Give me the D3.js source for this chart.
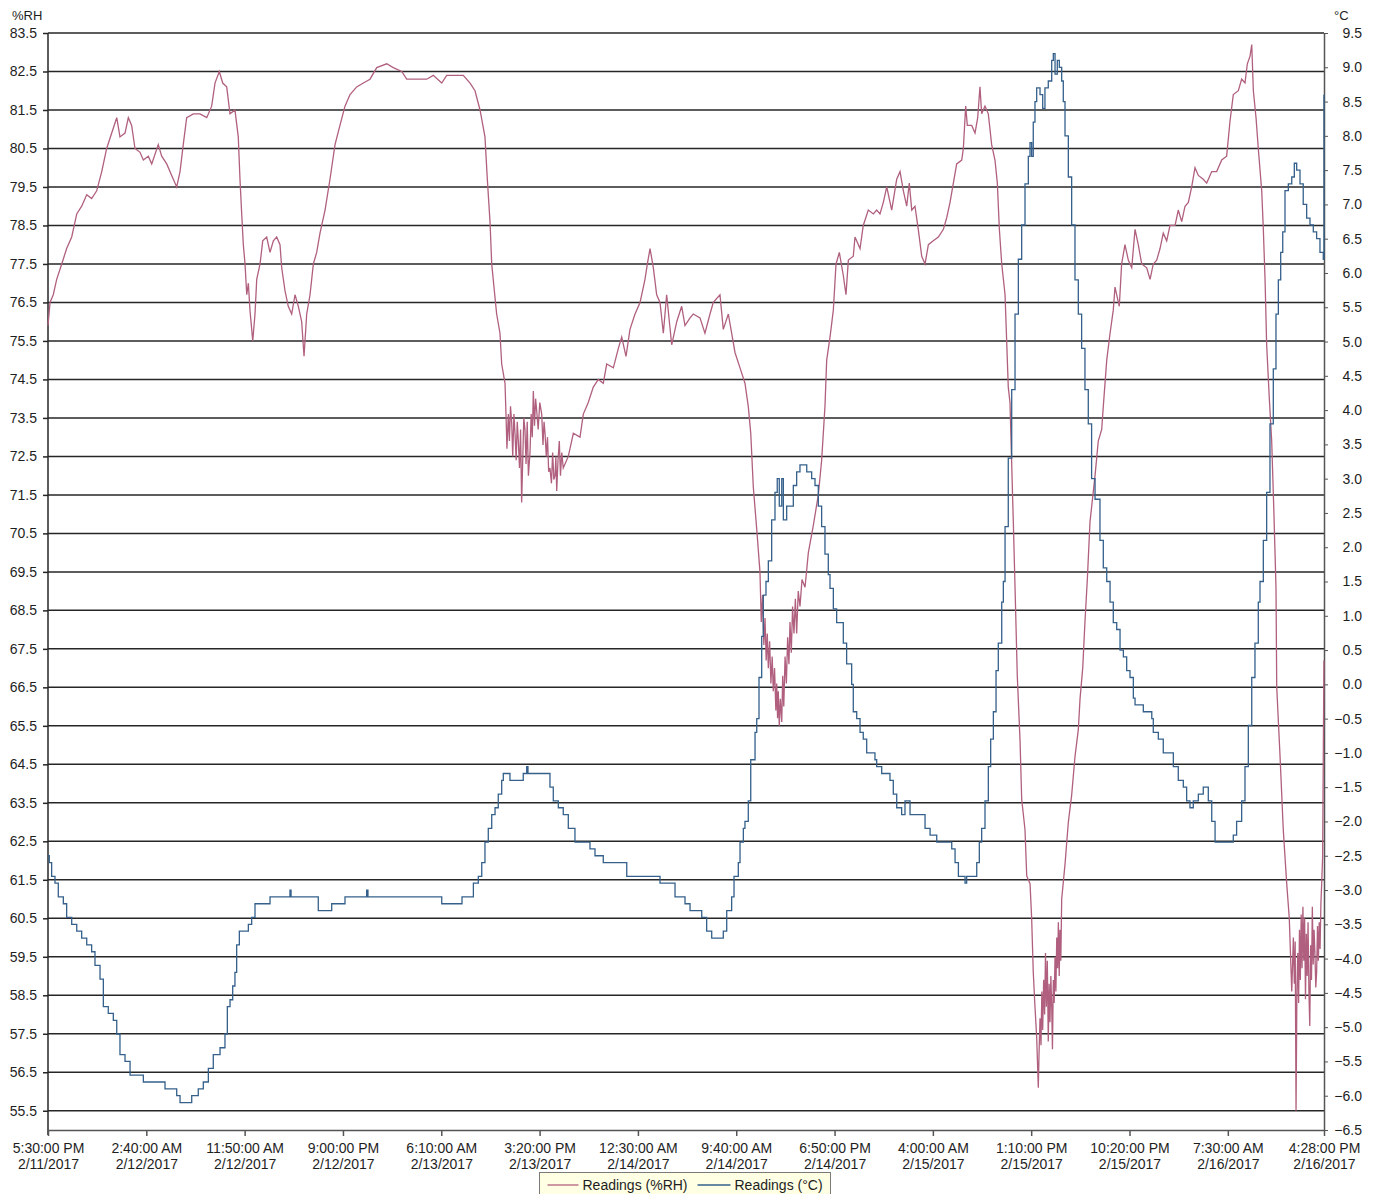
<!DOCTYPE html>
<meta charset="utf-8">
<script src="https://d3js.org/d3.v7.min.js"></script>
<style>
  body { margin: 0; background: #fff; }
  #chart text { font-family: "Liberation Sans", Arial, sans-serif; fill: #1e1e1e; }
</style>
<body>
<div id="chart"></div>
<script>

// readings as [hours since 5:30:00 PM 2/11/2017, value]
var rhReadings = [
  [0,75.9],[0.19,76.5],[0.49,76.7],[0.81,77.1],[1.28,77.5],[1.74,77.9],[2.21,78.2],[2.68,78.8],[3.14,79.0],[3.61,79.3],
  [4.07,79.2],[4.54,79.4],[5.01,79.9],[5.47,80.5],[5.94,80.9],[6.41,81.3],[6.71,80.8],[7.18,80.9],[7.49,81.3],[7.80,81.1],
  [8.11,80.5],[8.58,80.4],[8.89,80.2],[9.35,80.3],[9.67,80.1],[10.28,80.6],[10.60,80.3],[11.07,80.1],[11.53,79.8],[12.00,79.5],
  [12.31,79.9],[12.61,80.6],[12.93,81.3],[13.55,81.4],[14.17,81.4],[14.80,81.3],[15.26,81.6],[15.57,82.2],[15.97,82.5],[16.29,82.2],
  [16.66,82.1],[16.97,81.4],[17.43,81.5],[17.74,80.8],[17.90,79.7],[18.06,78.8],[18.21,78.0],[18.37,77.5],[18.53,76.7],[18.68,77.0],
  [18.83,76.3],[19.09,75.5],[19.30,76.2],[19.46,77.1],[19.77,77.5],[20.02,78.1],[20.39,78.2],[20.70,77.8],[21.01,78.1],[21.32,78.2],
  [21.63,78.0],[21.79,77.4],[22.10,76.8],[22.40,76.4],[22.72,76.2],[23.03,76.7],[23.34,76.4],[23.65,76.0],[23.87,75.1],[24.12,76.2],
  [24.43,76.7],[24.74,77.5],[25.05,77.8],[25.36,78.3],[25.83,78.9],[26.29,79.7],[26.76,80.6],[27.22,81.1],[27.69,81.6],[28.16,81.9],
  [28.78,82.1],[29.40,82.2],[30.02,82.3],[30.65,82.6],[31.58,82.7],[32.19,82.6],[32.98,82.5],[33.44,82.3],[34.38,82.3],[35.31,82.3],
  [35.92,82.4],[36.71,82.2],[37.17,82.4],[38.11,82.4],[38.72,82.4],[39.35,82.2],[39.81,82.0],[40.28,81.5],[40.74,80.8],[40.96,79.7],
  [41.21,78.6],[41.37,77.5],[41.58,76.9],[41.83,76.2],[42.14,75.7],[42.30,74.9],[42.61,74.4],[42.70,73.6],[42.79,72.7],[42.92,73.6],
  [43.02,72.9],[43.12,73.8],[43.23,73.4],[43.33,72.5],[43.44,73.6],[43.54,73.1],[43.65,72.4],[43.75,73.4],[43.85,72.9],[43.96,72.2],
  [44.06,73.2],[44.16,71.3],[44.26,72.4],[44.36,73.5],[44.47,73.2],[44.57,72.3],[44.68,73.4],[44.79,72.0],[44.94,72.6],[45.05,73.6],
  [45.15,73.0],[45.25,74.2],[45.36,73.3],[45.46,74.0],[45.56,73.7],[45.70,73.2],[45.85,73.9],[46.03,73.6],[46.15,72.8],[46.25,73.4],
  [46.34,73.1],[46.46,72.5],[46.57,73.0],[46.68,72.1],[46.80,72.2],[46.94,71.8],[47.05,72.6],[47.16,71.9],[47.27,72.0],[47.35,72.5],
  [47.43,71.6],[47.55,72.4],[47.67,72.9],[47.78,72.0],[47.90,72.6],[48.04,72.2],[48.51,72.5],[48.98,73.1],[49.60,73.0],[49.91,73.6],
  [50.37,73.9],[50.84,74.3],[51.31,74.5],[51.77,74.4],[52.09,74.9],[52.71,74.8],[53.17,75.3],[53.49,75.6],[53.89,75.1],[54.26,75.8],
  [54.73,76.2],[55.20,76.5],[55.66,77.1],[55.88,77.5],[56.13,77.9],[56.44,77.4],[56.75,76.7],[57.06,76.5],[57.37,75.7],[57.68,76.7],
  [58.15,75.4],[58.62,76.0],[59.08,76.4],[59.39,75.9],[59.86,76.1],[60.16,76.2],[60.79,76.1],[61.25,75.7],[61.72,76.2],[62.03,76.5],
  [62.65,76.7],[62.96,75.8],[63.43,76.2],[63.74,75.7],[64.05,75.2],[64.52,74.8],[64.98,74.4],[65.29,73.8],[65.52,73.1],[65.76,71.7],
  [66.08,70.6],[66.38,69.5],[66.50,68.2],[66.62,68.9],[66.74,67.6],[66.85,68.3],[66.96,67.2],[67.06,67.9],[67.16,67.0],[67.28,67.7],
  [67.40,66.6],[67.52,67.3],[67.62,66.4],[67.74,67.0],[67.86,65.9],[67.94,66.6],[68.02,65.7],[68.09,66.4],[68.18,65.5],[68.28,66.2],
  [68.41,65.6],[68.50,66.8],[68.60,66.0],[68.72,67.3],[68.84,66.6],[68.96,67.8],[69.08,67.1],[69.18,68.2],[69.30,67.4],[69.42,68.6],
  [69.55,67.9],[69.68,68.8],[69.80,67.9],[69.95,69.0],[70.11,68.6],[70.30,69.3],[70.58,69.1],[70.89,70.0],[71.35,70.7],[71.82,71.5],
  [72.13,72.4],[72.44,73.8],[72.60,75.0],[72.91,75.6],[73.22,76.3],[73.47,77.5],[73.78,77.8],[74.15,77.2],[74.40,76.7],[74.62,77.6],
  [75.08,77.7],[75.24,78.2],[75.71,77.9],[76.01,78.5],[76.48,78.9],[76.95,78.8],[77.26,78.9],[77.57,78.8],[77.88,79.1],[78.20,79.5],
  [78.66,78.9],[79.13,79.7],[79.44,79.9],[79.75,79.4],[80.06,79.0],[80.30,79.6],[80.53,78.9],[80.83,79.0],[81.14,78.4],[81.46,77.7],
  [81.77,77.5],[82.08,78.0],[82.54,78.1],[83.01,78.2],[83.48,78.4],[83.79,78.7],[84.10,79.1],[84.41,79.6],[84.72,80.1],[85.19,80.2],
  [85.34,80.5],[85.56,81.6],[85.71,81.1],[86.12,81.1],[86.43,80.9],[86.68,81.3],[86.89,82.1],[87.05,81.4],[87.36,81.6],[87.67,81.4],
  [87.98,80.6],[88.29,80.2],[88.51,79.6],[88.70,78.4],[88.92,77.5],[89.23,76.7],[89.53,74.3],[89.69,73.9],[90.00,70.8],[90.16,69.1],
  [90.37,66.8],[90.63,65.1],[90.78,63.6],[91.09,62.8],[91.25,61.6],[91.56,61.4],[91.71,60.5],[91.86,59.1],[92.02,58.2],[92.18,57.4],
  [92.33,56.1],[92.40,57.0],[92.49,57.9],[92.58,57.2],[92.66,58.6],[92.74,57.6],[92.83,58.9],[92.92,58.0],[93.00,59.6],[93.08,58.2],
  [93.17,59.4],[93.26,57.3],[93.34,58.8],[93.42,57.8],[93.50,59.0],[93.58,58.2],[93.65,57.1],[93.73,58.9],[93.81,58.3],[93.89,59.5],
  [93.97,58.6],[94.05,60.0],[94.13,59.2],[94.20,60.4],[94.28,59.0],[94.35,60.2],[94.43,59.4],[94.51,61.0],[94.82,61.9],[95.13,63.0],
  [95.44,63.7],[95.75,64.7],[96.06,65.4],[96.22,66.2],[96.47,67.0],[96.68,68.2],[96.90,69.3],[97.15,70.8],[97.62,72.0],[97.92,72.9],
  [98.24,73.2],[98.39,73.8],[98.71,75.0],[99.02,75.7],[99.32,76.3],[99.48,76.9],[99.88,76.4],[100.10,77.5],[100.41,78.0],[100.72,77.6],
  [101.04,77.4],[101.35,78.4],[101.65,78.0],[101.97,77.5],[102.44,77.4],[102.75,77.1],[103.05,77.5],[103.37,77.6],[103.68,77.9],[103.98,78.3],
  [104.30,78.1],[104.61,78.5],[105.08,78.5],[105.38,78.9],[105.70,78.6],[106.01,79.0],[106.32,79.1],[106.63,79.5],[106.94,80.0],[107.25,79.8],
  [107.71,79.7],[108.03,79.6],[108.50,79.9],[108.96,79.9],[109.43,80.2],[109.89,80.3],[110.20,81.2],[110.51,81.9],[110.98,82.0],[111.29,82.3],
  [111.60,82.2],[111.82,82.7],[112.07,82.9],[112.23,83.2],[112.38,82.0],[112.63,81.3],[112.84,80.5],[113.16,79.4],[113.31,78.4],[113.47,77.1],
  [113.62,75.4],[113.87,74.0],[114.09,72.9],[114.30,71.0],[114.49,69.1],[114.56,66.5],[114.87,64.7],[115.17,62.8],[115.49,61.4],[115.73,60.5],
  [115.96,58.6],[116.11,60.0],[116.20,58.8],[116.28,59.9],[116.36,55.5],[116.44,58.6],[116.52,59.6],[116.60,58.3],[116.68,60.2],[116.76,58.9],
  [116.84,60.6],[116.92,59.2],[117.00,60.8],[117.08,59.4],[117.16,60.5],[117.24,58.4],[117.32,60.1],[117.40,59.0],[117.48,60.4],[117.56,58.6],
  [117.64,57.7],[117.72,59.8],[117.80,58.9],[117.88,60.8],[117.96,59.3],[118.04,60.2],[118.12,59.6],[118.20,58.7],[118.28,59.1],[118.36,60.3],
  [118.44,59.4],[118.52,60.4],[118.60,59.7],[118.68,60.9],[118.75,61.4],[118.84,62.1],[118.96,67.2]
];

var tempReadings = [
  [0,-2.5],[0.12,-2.6],[0.34,-2.8],[0.65,-2.9],[0.96,-3.1],[1.43,-3.2],[1.74,-3.4],[2.21,-3.5],[2.68,-3.6],[3.14,-3.7],
  [3.61,-3.8],[4.07,-3.9],[4.38,-4.1],[4.85,-4.3],[5.16,-4.7],[5.62,-4.8],[6.09,-4.9],[6.41,-5.1],[6.71,-5.4],[7.18,-5.5],
  [7.65,-5.7],[8.27,-5.7],[8.89,-5.8],[10.44,-5.8],[10.91,-5.9],[11.37,-5.9],[12.00,-6.0],[12.31,-6.1],[12.93,-6.1],[13.40,-6.0],
  [14.01,-5.9],[14.48,-5.8],[14.95,-5.6],[15.41,-5.4],[16.04,-5.3],[16.50,-5.1],[16.72,-4.7],[16.97,-4.6],[17.22,-4.4],[17.43,-4.2],
  [17.59,-3.8],[17.84,-3.6],[18.06,-3.6],[18.37,-3.6],[18.68,-3.5],[18.99,-3.4],[19.30,-3.2],[20.39,-3.2],[20.70,-3.1],[22.25,-3.1],
  [22.56,-3.0],[22.66,-3.1],[23.80,-3.1],[24.74,-3.1],[25.20,-3.3],[26.29,-3.3],[26.45,-3.2],[27.53,-3.2],[27.69,-3.1],[29.71,-3.0],
  [29.83,-3.1],[34.68,-3.1],[36.71,-3.2],[38.44,-3.2],[38.60,-3.1],[39.35,-3.1],[39.66,-2.9],[40.12,-2.8],[40.44,-2.6],[40.74,-2.3],
  [41.05,-2.1],[41.37,-1.9],[41.68,-1.8],[41.98,-1.6],[42.30,-1.4],[42.45,-1.3],[42.76,-1.3],[43.07,-1.4],[43.70,-1.4],[44.31,-1.3],
  [44.63,-1.2],[44.75,-1.3],[46.50,-1.3],[46.80,-1.5],[47.11,-1.7],[47.58,-1.8],[48.04,-1.9],[48.51,-2.1],[49.13,-2.3],[50.22,-2.3],
  [50.53,-2.4],[51.00,-2.5],[51.77,-2.6],[52.71,-2.6],[53.80,-2.6],[53.96,-2.8],[56.75,-2.8],[57.06,-2.9],[57.99,-2.9],[58.46,-3.1],
  [59.39,-3.2],[59.86,-3.3],[60.63,-3.3],[60.95,-3.4],[61.41,-3.6],[61.88,-3.7],[62.65,-3.7],[62.96,-3.6],[63.28,-3.3],[63.74,-3.1],
  [63.96,-2.8],[64.36,-2.6],[64.52,-2.3],[64.83,-2.1],[64.98,-2.0],[65.29,-1.7],[65.52,-1.1],[65.92,-0.7],[66.08,-0.5],[66.29,0.1],
  [66.54,0.7],[66.69,1.3],[66.94,1.5],[67.16,1.8],[67.47,2.4],[67.78,2.8],[67.99,3.0],[68.18,2.6],[68.41,3.0],[68.56,2.4],
  [68.87,2.6],[69.18,2.6],[69.49,2.9],[69.80,3.1],[70.11,3.2],[70.42,3.2],[70.74,3.1],[71.20,3.0],[71.51,2.9],[71.82,2.6],
  [72.13,2.3],[72.44,1.9],[72.75,1.6],[72.91,1.4],[73.22,1.1],[73.53,0.9],[74.15,0.6],[74.46,0.3],[74.93,0.0],[75.08,-0.4],
  [75.40,-0.5],[75.71,-0.7],[76.01,-0.8],[76.33,-1.0],[77.10,-1.1],[77.26,-1.2],[77.73,-1.3],[78.50,-1.4],[78.81,-1.6],[79.13,-1.8],
  [79.59,-1.9],[79.90,-1.7],[80.37,-1.9],[80.99,-1.9],[81.46,-1.9],[81.77,-2.1],[82.24,-2.2],[82.86,-2.3],[83.79,-2.3],[84.26,-2.4],
  [84.57,-2.6],[84.88,-2.8],[85.50,-2.9],[85.65,-2.8],[86.43,-2.8],[86.59,-2.6],[86.83,-2.3],[87.05,-2.1],[87.36,-1.7],[87.67,-1.2],
  [87.89,-0.8],[88.14,-0.4],[88.39,0.2],[88.60,0.6],[88.92,1.2],[89.07,1.5],[89.23,2.3],[89.53,3.3],[89.85,4.3],[90.16,5.4],
  [90.47,6.2],[90.78,6.7],[91.09,7.3],[91.40,7.7],[91.56,7.9],[91.71,7.7],[91.86,8.2],[92.02,8.5],[92.18,8.7],[92.49,8.6],
  [92.74,8.4],[92.95,8.7],[93.26,8.8],[93.58,9.1],[93.73,9.2],[93.89,8.9],[94.10,9.1],[94.29,9.0],[94.51,8.8],[94.66,8.5],
  [94.82,8.0],[95.13,7.4],[95.44,6.7],[95.75,5.9],[96.06,5.4],[96.37,4.9],[96.68,4.3],[96.99,3.8],[97.30,3.0],[97.62,2.7],
  [98.08,2.1],[98.39,1.7],[98.71,1.5],[99.02,1.2],[99.32,0.9],[99.64,0.8],[99.95,0.5],[100.26,0.4],[100.57,0.2],[100.88,0.1],
  [101.19,-0.2],[101.35,-0.3],[102.12,-0.4],[102.91,-0.5],[103.05,-0.7],[103.52,-0.8],[103.98,-1.0],[104.45,-1.0],[104.92,-1.2],[105.38,-1.4],
  [105.85,-1.5],[106.16,-1.7],[106.47,-1.8],[106.78,-1.7],[107.25,-1.6],[107.71,-1.5],[108.18,-1.7],[108.50,-2.0],[108.81,-2.3],[110.20,-2.3],
  [110.51,-2.2],[110.82,-2.0],[111.29,-1.7],[111.60,-1.2],[111.91,-0.6],[112.23,0.1],[112.53,0.6],[112.84,1.2],[113.00,1.5],[113.31,2.1],
  [113.62,2.8],[113.93,3.8],[114.24,4.6],[114.49,5.4],[114.71,5.9],[114.93,6.3],[115.12,6.6],[115.33,7.2],[115.64,7.3],[115.96,7.4],
  [116.20,7.6],[116.42,7.5],[116.73,7.3],[117.03,7.0],[117.35,6.8],[117.66,6.7],[117.97,6.6],[118.28,6.5],[118.59,6.3],[118.90,6.2],
  [118.96,8.6]
];

var xTickLabels = [
  ["5:30:00 PM", "2/11/2017"], ["2:40:00 AM", "2/12/2017"], ["11:50:00 AM", "2/12/2017"], ["9:00:00 PM", "2/12/2017"],
  ["6:10:00 AM", "2/13/2017"], ["3:20:00 PM", "2/13/2017"], ["12:30:00 AM", "2/14/2017"], ["9:40:00 AM", "2/14/2017"],
  ["6:50:00 PM", "2/14/2017"], ["4:00:00 AM", "2/15/2017"], ["1:10:00 PM", "2/15/2017"], ["10:20:00 PM", "2/15/2017"],
  ["7:30:00 AM", "2/16/2017"], ["4:28:00 PM", "2/16/2017"]
];
var rhTicks = d3.range(55.5, 83.6, 1);
var tempTicks = d3.range(-6.5, 9.6, 0.5);
var seriesNames = ["Readings (%RH)", "Readings (\u00b0C)"];
var axisTitles = ["%RH", "\u00b0C"];

var rhColor = "#b0607e", tempColor = "#34608b", gridColor = "#262626";

var full_width = 1376, full_height = 1194;
var margin = {top: 33, right: 52, bottom: 64, left: 48};

var svg = d3.select("#chart").append("svg")
    .attr("width", full_width)
    .attr("height", full_height);

var parseTick = d3.timeParse("%I:%M:%S %p %m/%d/%Y");
var tickDates = xTickLabels.map(function(d) { return parseTick(d[0] + " " + d[1]); });
var start = tickDates[0], end = tickDates[tickDates.length - 1];
function atHours(h) { return new Date(start.getTime() + h * 3600000); }

var x = d3.scaleTime().domain([start, end]).range([margin.left, full_width - margin.right]);
var yL = d3.scaleLinear().domain([55, 83.5]).range([full_height - margin.bottom, margin.top]);
var yR = d3.scaleLinear().domain([-6.5, 9.5]).range([full_height - margin.bottom, margin.top]);

// horizontal grid at the %RH ticks
svg.append("g")
  .selectAll("line")
  .data(rhTicks)
  .join("line")
    .attr("x1", margin.left)
    .attr("x2", full_width - margin.right)
    .attr("y1", function(d) { return yL(d); })
    .attr("y2", function(d) { return yL(d); })
    .attr("stroke", gridColor)
    .attr("stroke-width", 1.5);

// left axis
var gL = svg.append("g")
    .attr("transform", "translate(" + margin.left + ",0)")
    .call(d3.axisLeft(yL).tickValues(rhTicks).tickFormat(d3.format(".1f")).tickSize(5).tickSizeOuter(0).tickPadding(6));
gL.select(".domain").attr("stroke", gridColor).attr("stroke-width", 1.5)
  .attr("d", "M0," + margin.top + "V" + (full_height - margin.bottom + 5));
gL.selectAll(".tick line").attr("stroke", gridColor).attr("stroke-width", 1.5);
gL.selectAll("text").style("font-size", "14px");

// right axis
var gR = svg.append("g")
    .attr("transform", "translate(" + (full_width - margin.right) + ",0)")
    .call(d3.axisRight(yR).tickValues(tempTicks).tickFormat(d3.format(".1f")).tickSize(4).tickSizeOuter(0));
gR.select(".domain").attr("stroke", "#555").attr("stroke-width", 1.5);
gR.selectAll(".tick line").attr("stroke", "#555");
gR.selectAll("text").style("font-size", "14px").attr("text-anchor", "end").attr("x", 38);

// bottom axis with two-line labels
var gX = svg.append("g")
    .attr("transform", "translate(0," + (full_height - margin.bottom) + ")")
    .call(d3.axisBottom(x).tickValues(tickDates).tickFormat("").tickSize(6).tickSizeOuter(0));
gX.select(".domain").attr("stroke", "#555").attr("stroke-width", 1.5);
gX.selectAll(".tick line").attr("stroke", "#555").attr("stroke-width", 1.5);
gX.selectAll(".tick").each(function(d, i) {
  var t = d3.select(this).append("text")
      .attr("text-anchor", "middle")
      .style("font-size", "14px");
  t.append("tspan").attr("x", 0).attr("y", 22.5).text(xTickLabels[i][0]);
  t.append("tspan").attr("x", 0).attr("y", 39).text(xTickLabels[i][1]);
});

// axis titles
svg.append("text").attr("x", 12).attr("y", 20).style("font-size", "13px").text(axisTitles[0]);
svg.append("text").attr("x", 1334).attr("y", 20).style("font-size", "13px").text(axisTitles[1]);

// series: humidity drawn as a plain polyline, temperature as steps (0.1 degree resolution)
var rhLine = d3.line()
    .x(function(d) { return x(atHours(d[0])); })
    .y(function(d) { return yL(d[1]); });
var tempLine = d3.line()
    .curve(d3.curveStepAfter)
    .x(function(d) { return x(atHours(d[0])); })
    .y(function(d) { return yR(d[1]); });

svg.append("path")
    .datum(rhReadings)
    .attr("d", rhLine)
    .attr("fill", "none")
    .attr("stroke", rhColor)
    .attr("stroke-width", 1.3);

svg.append("path")
    .datum(tempReadings)
    .attr("d", tempLine)
    .attr("fill", "none")
    .attr("stroke", tempColor)
    .attr("stroke-width", 1.3);

// legend
var legend = svg.append("g").attr("transform", "translate(539.5,1172.5)");
legend.append("rect")
    .attr("width", 291).attr("height", 30)
    .attr("fill", "#ffffe4").attr("stroke", "#7a7a7a");
var legendItems = [
  {name: seriesNames[0], color: rhColor, x0: 8, x1: 39, tx: 43},
  {name: seriesNames[1], color: tempColor, x0: 158, x1: 191, tx: 195}
];
legendItems.forEach(function(it) {
  legend.append("line")
      .attr("x1", it.x0).attr("x2", it.x1).attr("y1", 12.5).attr("y2", 12.5)
      .attr("stroke", it.color).attr("stroke-width", 1.3);
  legend.append("text").attr("x", it.tx).attr("y", 17).style("font-size", "14px").text(it.name);
});

</script>
</body>
